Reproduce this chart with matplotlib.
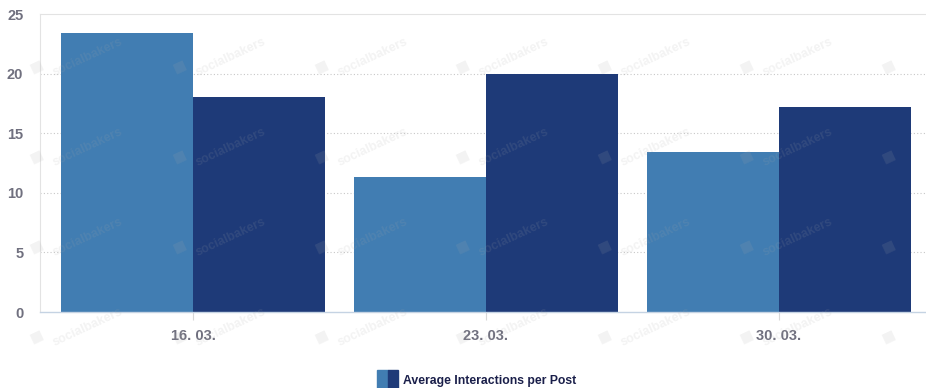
import matplotlib.pyplot as plt
from matplotlib.patches import Rectangle
import numpy as np

# Data
weeks = ['16. 03.', '23. 03.', '30. 03.']
series_a = [23.4, 11.3, 13.4]   # lighter blue
series_b = [18.0, 20.0, 17.2]   # dark navy
y_ticks = [0, 5, 10, 15, 20, 25]
legend_label = 'Average Interactions per Post'

light = '#417db2'
dark = '#1e3a78'
tick_col = '#70707f'

plt.rcParams['font.family'] = ['Liberation Sans', 'DejaVu Sans']

fig = plt.figure(figsize=(9.26, 3.88), dpi=100)
ax = fig.add_axes([40 / 926, (388 - 312) / 388, 886 / 926, 298 / 388])

x = np.arange(len(weeks))
w = 0.45
ax.bar(x - w / 2, series_a, w, color=light, zorder=2)
ax.bar(x + w / 2, series_b, w, color=dark, zorder=2)

ax.set_xlim(-0.522, 2.502)
ax.set_ylim(0, 25)
ax.set_yticks(y_ticks)
ax.set_xticks(x)
ax.set_xticklabels(weeks)

for v in y_ticks[1:-1]:
    ax.axhline(v, color='#c8c8c8', lw=0.8, ls=(0, (1, 2)), zorder=1)

for s in ['left', 'top']:
    ax.spines[s].set_color('#e3e3e3')
    ax.spines[s].set_linewidth(0.8)
ax.spines['right'].set_visible(False)
ax.spines['bottom'].set_color('#c5d3e3')
ax.spines['bottom'].set_linewidth(1.0)

ax.tick_params(axis='y', length=0, pad=12, labelsize=10.5, labelcolor=tick_col)
ax.tick_params(axis='x', length=6, width=0.8, color='#d8d8d8', pad=6,
               labelsize=10.5, labelcolor=tick_col)
for lab in ax.get_xticklabels() + ax.get_yticklabels():
    lab.set_fontweight('bold')

# faint "socialbakers" watermark over everything
for yy in [67, 157, 247, 337]:
    for xx in [37, 180, 322, 463, 605, 747, 889]:
        fig.text(xx / 926, 1 - yy / 388, '\u25a0', fontsize=16, color='#a8a8a8',
                 alpha=0.14, rotation=25, ha='center', va='center', zorder=10)
        if xx < 850:
            fig.text((xx + 14) / 926, 1 - (yy - 10) / 388, 'socialbakers',
                     fontsize=9, color='#a8a8a8', alpha=0.14, rotation=25,
                     ha='left', va='center', fontweight='bold', zorder=10)

# legend at the bottom
fig.patches.append(Rectangle((377 / 926, 0), 11 / 926, 18 / 388, color=light,
                             transform=fig.transFigure, figure=fig))
fig.patches.append(Rectangle((388 / 926, 0), 10 / 926, 18 / 388, color=dark,
                             transform=fig.transFigure, figure=fig))
fig.text(403 / 926, 1 - 381 / 388, legend_label, fontsize=8.8, fontweight='bold',
         color='#1a1f4a', ha='left', va='center')

fig.savefig('out.png', dpi=100)
